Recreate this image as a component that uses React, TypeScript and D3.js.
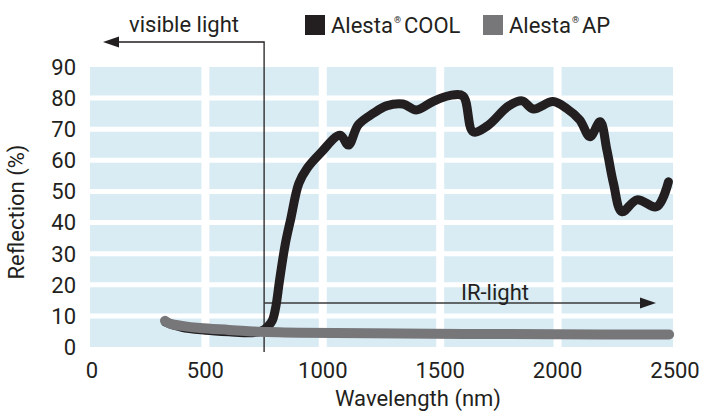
import React from 'react'
import * as d3 from 'd3'

// wavelengths (nm) and reflection (%)
const coolWl = [330, 400, 500, 600, 700, 740, 765, 785, 800, 815, 840, 863, 898, 933, 990, 1074, 1109, 1151, 1215, 1271, 1342, 1398, 1469, 1539, 1597, 1640, 1700, 1792, 1849, 1897, 1980, 2038, 2094, 2138, 2181, 2210, 2238, 2274, 2338, 2422, 2472]
const coolVal = [8.0, 6.3, 5.4, 4.9, 4.6, 5.2, 6.5, 8.5, 13, 21, 33, 41, 52.6, 57.4, 62.3, 68.1, 64.9, 71.4, 75.1, 77.5, 78.1, 76.2, 78.9, 80.8, 80.7, 69.2, 71.0, 77.5, 79.1, 76.5, 78.9, 76.7, 73.0, 67.6, 72.4, 63.3, 52.6, 43.5, 47.3, 45.1, 53.1]
const apWl = [328, 350, 400, 477, 600, 700, 900, 1200, 1600, 2000, 2475]
const apVal = [8.4, 7.5, 6.8, 6.1, 5.5, 5.0, 4.6, 4.4, 4.2, 4.1, 4.0]

const xTicks = [0, 500, 1000, 1500, 2000, 2500]
const yTicks = [0, 10, 20, 30, 40, 50, 60, 70, 80, 90]

const ink = '#231f20'
const font = 'Roboto'

function App() {
  const width = 706
  const height = 414

  const x = d3.scaleLinear().domain([0, 2500]).range([88, 675])
  const y = d3.scaleLinear().domain([0, 90]).range([347, 67])

  const line = d3
    .line<[number, number]>()
    .x(d => x(d[0]))
    .y(d => y(d[1]))
    .curve(d3.curveCatmullRom.alpha(0.5))

  const cool = coolWl.map((w, i) => [w, coolVal[i]] as [number, number])
  const ap = apWl.map((w, i) => [w, apVal[i]] as [number, number])

  const split = x(750)

  return (
    <svg width={width} height={height} style={{ position: 'absolute', left: 0, top: 0 }} fontFamily={font}>
      <rect x={x(0) + 2} y={y(90)} width={x(2500) - x(0) - 4} height={y(0) - y(90)} fill="#d9ecf4" />
      {yTicks.slice(1, -1).map(t => (
        <line key={'h' + t} x1={x(0)} x2={x(2500)} y1={y(t)} y2={y(t)} stroke="#fff" strokeWidth={5} />
      ))}
      {xTicks.slice(1, -1).map(t => (
        <line key={'v' + t} x1={x(t)} x2={x(t)} y1={y(90)} y2={y(0)} stroke="#fff" strokeWidth={8} />
      ))}

      {yTicks.map(t => (
        <text key={'yl' + t} x={76} y={y(t)} dy="0.36em" textAnchor="end" fontSize={22} fill={ink}>
          {t}
        </text>
      ))}
      {xTicks.map(t => (
        <text key={'xl' + t} x={x(t) + (t === 0 ? 4 : 0)} y={378} textAnchor="middle" fontSize={22} fill={ink}>
          {t}
        </text>
      ))}
      <text x={418} y={406} textAnchor="middle" fontSize={22} fill={ink}>Wavelength (nm)</text>
      <text transform="translate(24,212) rotate(-90)" textAnchor="middle" fontSize={22} fill={ink}>Reflection (%)</text>

      {/* visible light marker */}
      <path d={`M${split},352 V42 H116`} fill="none" stroke={ink} strokeWidth={1.3} />
      <path d={`M103,42 L119,36.5 L119,47.5 Z`} fill={ink} />
      <text x={184} y={32} textAnchor="middle" fontSize={22} fill={ink}>visible light</text>

      {/* IR marker */}
      <line x1={split} x2={642} y1={303} y2={303} stroke="#3a3a3a" strokeWidth={1.3} />
      <path d={`M656,303 L640,297.5 L640,308.5 Z`} fill={ink} />
      <text x={461} y={300} fontSize={22} fill={ink}>IR-light</text>

      <path d={line(cool) || ''} fill="none" stroke={ink} strokeWidth={9} strokeLinecap="round" strokeLinejoin="round" />
      <path d={line(ap) || ''} fill="none" stroke="#77777a" strokeWidth={10} strokeLinecap="round" strokeLinejoin="round" />

      {/* legend */}
      <rect x={305} y={15} width={20} height={20} fill={ink} />
      <text x={331} y={33} fontSize={22} fill={ink}>
        Alesta<tspan fontSize={9} dx={1} dy={-10}>®</tspan><tspan dx={3} dy={10}>COOL</tspan>
      </text>
      <rect x={483} y={15} width={20} height={20} fill="#77777a" />
      <text x={509} y={33} fontSize={22} fill={ink}>
        Alesta<tspan fontSize={9} dx={1} dy={-10}>®</tspan><tspan dx={3} dy={10}>AP</tspan>
      </text>
    </svg>
  )
}

export default App
